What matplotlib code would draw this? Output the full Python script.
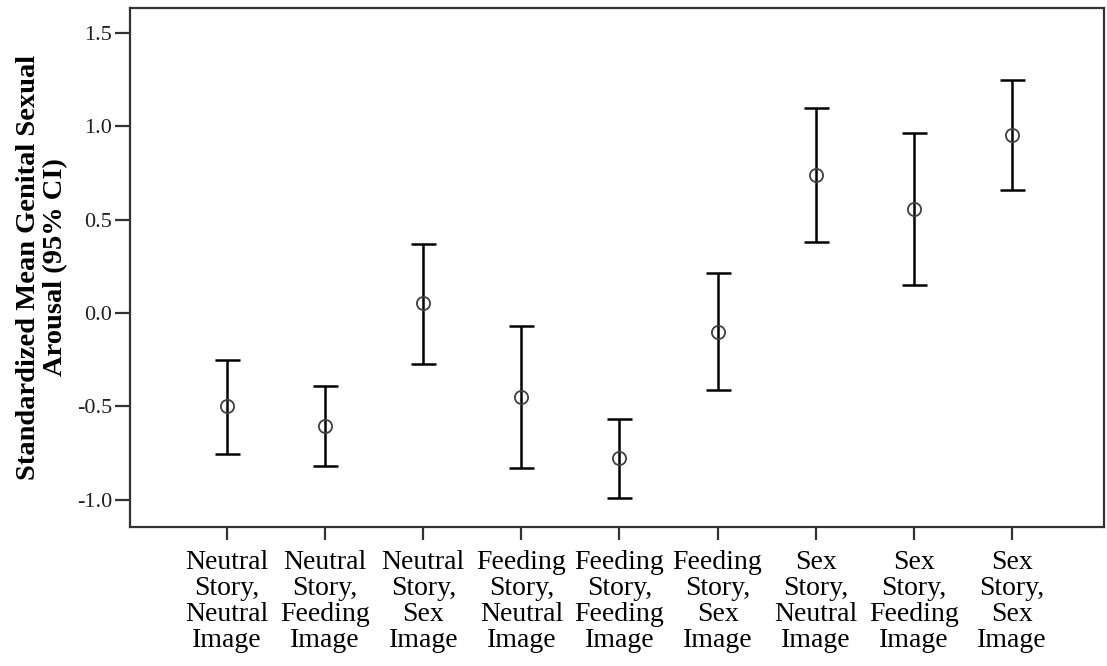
import matplotlib
matplotlib.use("Agg")
import matplotlib.pyplot as plt
import numpy as np

# conditions (story, image)
labels = ["Neutral\nStory,\nNeutral\nImage", "Neutral\nStory,\nFeeding\nImage",
          "Neutral\nStory,\nSex\nImage", "Feeding\nStory,\nNeutral\nImage",
          "Feeding\nStory,\nFeeding\nImage", "Feeding\nStory,\nSex\nImage",
          "Sex\nStory,\nNeutral\nImage", "Sex\nStory,\nFeeding\nImage",
          "Sex\nStory,\nSex\nImage"]

# mean and 95% CI bounds
means = [-0.50, -0.605, 0.054, -0.45, -0.776, -0.10, 0.74, 0.557, 0.953]
lower = [-0.757, -0.82, -0.273, -0.83, -0.99, -0.41, 0.38, 0.15, 0.657]
upper = [-0.25, -0.39, 0.37, -0.07, -0.567, 0.213, 1.10, 0.964, 1.249]

yticks = [-1.0, -0.5, 0.0, 0.5, 1.0, 1.5]

plt.rcParams['font.family'] = ['Liberation Serif', 'DejaVu Serif']

fig = plt.figure(figsize=(11.07, 6.66), dpi=100)
ax = fig.add_axes([130/1107, 1-527/666, 974/1107, 519/666])

x = np.arange(1, len(means)+1)
m = np.array(means)
err = [m - np.array(lower), np.array(upper) - m]

#error bars with open circle at the mean
ax.errorbar(x, m, yerr=err, fmt='none', ecolor='black', elinewidth=1.8,
            capsize=9, capthick=1.8)
ax.plot(x, m, 'o', markerfacecolor='none', markeredgecolor='#404040',
        markersize=9.5, markeredgewidth=1.3)

ax.set_xlim(0.01, 9.94)
ax.set_ylim(-1.146, 1.633)
ax.set_yticks(yticks)
ax.set_yticklabels(["%.1f" % v for v in yticks], fontsize=16, color='#202020')
ax.set_xticks(x)
ax.set_xticklabels(labels, fontsize=20, linespacing=1.05)

ax.tick_params(axis='y', length=11, width=1.6, color='#333333', pad=2)
ax.tick_params(axis='x', length=9.5, width=1.6, color='#333333', pad=7)
for s in ax.spines.values():
    s.set_linewidth(1.6)
    s.set_color('#333333')

ax.set_ylabel("Standardized Mean Genital Sexual\nArousal (95% CI)",
              fontsize=20.5, fontweight='bold', linespacing=1.12)
ax.yaxis.set_label_coords(-62/974, 0.5)

fig.savefig("out.png", dpi=100)
